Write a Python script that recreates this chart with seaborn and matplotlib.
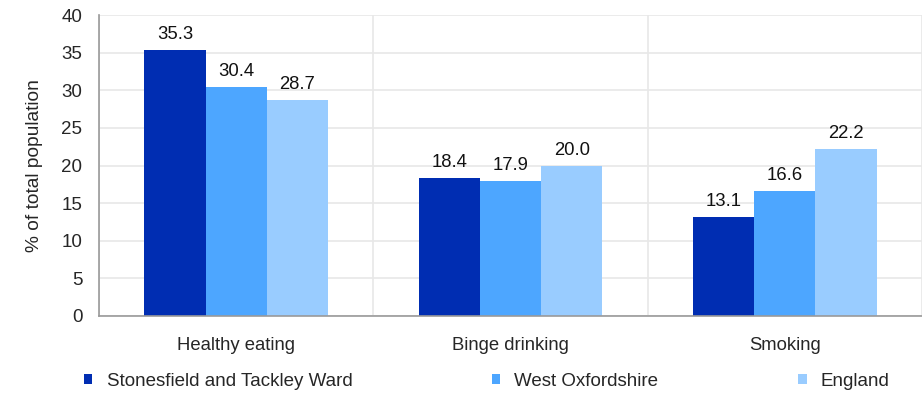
import numpy as np
import pandas as pd
import seaborn as sns
import matplotlib
import matplotlib.pyplot as plt
from matplotlib.ticker import MultipleLocator, FixedLocator

categories = ["Healthy eating", "Binge drinking", "Smoking"]
areas = ["Stonesfield and Tackley Ward", "West Oxfordshire", "England"]
stonesfield = [35.3, 18.4, 13.1]
west_oxon = [30.4, 17.9, 16.6]
england = [28.7, 20.0, 22.2]

colours = ["#002DB2", "#4DA6FF", "#99CCFF"]

df = pd.DataFrame({
    "Category": categories * 3,
    "Area": [a for a in areas for _ in categories],
    "Value": stonesfield + west_oxon + england,
})

sns.set_style("white")
matplotlib.rcParams['font.family'] = ["Liberation Sans", "DejaVu Sans"]
matplotlib.rcParams['font.size'] = 13

fig = plt.figure(figsize=(9.22, 3.93), dpi=100)
ax = fig.add_axes([99 / 922, 1 - 316 / 393, 823 / 922, 301 / 393])

sns.barplot(data=df, x="Category", y="Value", hue="Area", order=categories,
            hue_order=areas, palette=colours, width=0.67, saturation=1,
            linewidth=0, ax=ax, legend=True)

for cont in ax.containers:
    ax.bar_label(cont, fmt="%.1f", padding=5, fontsize=13.3, color="#111111")

ax.set_xlim(-0.5, 2.5)
ax.set_ylim(0, 40)
ax.yaxis.set_major_locator(MultipleLocator(5))
ax.xaxis.set_minor_locator(FixedLocator([-0.5, 0.5, 1.5, 2.5]))
ax.tick_params(axis="x", which="major", length=0, pad=15, labelsize=13.3)
ax.tick_params(axis="x", which="minor", length=5, color="#999999", direction="out")
ax.tick_params(axis="y", which="major", length=5, color="#999999", direction="out",
               labelsize=13.5, pad=7)
ax.grid(axis="y", which="major", color="#e8e8e8", linewidth=1.2)
ax.grid(axis="x", which="minor", color="#e8e8e8", linewidth=1.2)
ax.set_axisbelow(True)

for s in ["top", "right"]:
    ax.spines[s].set_visible(False)
for s in ["left", "bottom"]:
    ax.spines[s].set_color("#999999")
    ax.spines[s].set_linewidth(1.2)

ax.set_xlabel("")
ax.set_ylabel("% of total population", fontsize=13.8, labelpad=13)

handles, labels = ax.get_legend_handles_labels()
ax.get_legend().remove()
fig.legend(handles, labels, loc="center left", bbox_to_anchor=(84 / 922, 12 / 393),
           ncol=3, frameon=False, fontsize=13.5, handlelength=0.45, handleheight=0.45,
           handletextpad=0.75, columnspacing=7.45, borderaxespad=0, borderpad=0)

fig.savefig("out.png", dpi=100)
